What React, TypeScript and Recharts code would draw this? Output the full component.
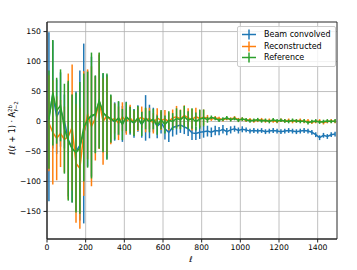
import React from 'react';
import { ComposedChart, Line, ErrorBar, XAxis, YAxis, CartesianGrid, Legend, ReferenceArea } from 'recharts';

// multipole bin centres
const ELL = [
  10, 30, 50, 70, 90, 110, 130, 150, 170, 190, 210, 230, 250, 270, 290, 310, 330, 350, 370, 390,
  410, 430, 450, 470, 490, 510, 530, 550, 570, 590, 610, 630, 650, 670, 690, 710, 730, 750, 770, 790,
  810, 830, 850, 870, 890, 910, 930, 950, 970, 990, 1010, 1030, 1050, 1070, 1090, 1110, 1130, 1150, 1170, 1190,
  1210, 1230, 1250, 1270, 1290, 1310, 1330, 1350, 1370, 1390, 1410, 1430, 1450, 1470, 1490,
];

const BEAM = [
  8, 45, 8, 20, 0, -30, -45, -50, -40, -20, 5, 8, 12, 33, 14, 8, 4,
  0, 5, -4, 7, 2, -3, 5, -5, 6, 0, 3, -8, -2, -12, -18, -10,
  -8, -6, -9, -12, -19, -20, -18, -17, -16, -18, -15, -16, -13, -17, -14, -12, -15, -13,
  -14, -16, -15, -16, -15, -17, -16, -15, -16, -17, -16, -15, -16, -17, -16, -15, -16, -18, -22, -27, -23, -25, -22, -21,
];
const BEAM_ERR = [
  141, 90, 62, 62, 45, 95, 90, 100, 125, 150, 80, 100, 64, 78, 66, 70, 40,
  32, 28, 30, 26, 24, 24, 22, 22, 38, 28, 20, 20, 18, 18, 16, 15,
  14, 13, 12, 12, 12, 11, 11, 10, 9, 8, 8, 7, 7, 6, 6, 5, 5, 5,
  4, 4, 4, 4, 4, 4, 4, 4, 4, 4, 4, 4, 4, 4, 4, 4, 4, 4, 4, 4, 4, 4, 4, 4,
];

const RECON = [
  -3, -18, -28, -20, -30, -25, -10, -70, -78, -20, 12, -8, 5, 34, 0, 10, 2,
  5, -3, 8, 0, 6, -2, 4, 7, 2, 5, -3, 6, 2, 4, 0, 6,
  8, 4, 10, 6, 3, 8, 5, 7, 6, 4, 6, 5, 3, 5, 4, 6, 3, 4,
  2, 3, 1, 2, 3, 1, 2, 1, 0, 2, 1, 2, 0, 1, 2, 0, 1, -1, 0, 1, -2, 0, 1, 0,
];
const RECON_ERR = [
  80, 87, 70, 56, 55, 105, 105, 99, 101, 104, 75, 100, 70, 80, 72, 65, 40,
  25, 28, 24, 22, 22, 20, 20, 18, 20, 18, 17, 16, 16, 15, 15, 14,
  18, 16, 17, 16, 18, 15, 14, 13, 5, 3, 3, 3, 3, 3, 3, 3, 3, 3,
  3, 3, 3, 3, 3, 3, 3, 3, 3, 3, 3, 3, 3, 3, 3, 3, 3, 3, 3, 3, 3, 3, 3, 3,
];

const REF = [
  3, 48, 18, 27, -12, -32, -45, -52, -44, -10, 3, 10, 12, 35, 15, 8, 5,
  0, 6, -5, 8, 2, -2, 6, -4, 5, 0, 4, -6, 3, -5, 2, 0,
  5, 3, 8, 2, 5, 0, 4, 6, 3, 7, 5, 2, 4, 6, 3, 5, 2, 4,
  3, 1, 2, 3, 1, 2, 0, 3, 1, 2, 1, 0, 2, 1, 0, 1, -2, 0, 1, -1, 0, 1, 0, 1,
];
const REF_ERR = [
  82, 88, 55, 60, 75, 100, 90, 100, 110, 90, 80, 105, 65, 80, 66, 72, 40,
  30, 28, 26, 24, 22, 22, 20, 20, 18, 18, 17, 16, 16, 15, 15, 14,
  17, 16, 18, 15, 17, 15, 16, 14, 5, 3, 3, 3, 3, 3, 3, 3, 3, 3,
  3, 3, 3, 3, 3, 3, 3, 3, 3, 3, 3, 3, 3, 3, 3, 3, 3, 3, 3, 3, 3, 3, 3, 3,
];

const X_TICKS = [0, 200, 400, 600, 800, 1000, 1200, 1400];
const Y_TICKS = [-150, -100, -50, 0, 50, 100, 150];

const SERIES = [
  { key: 'beam', name: 'Beam convolved', color: '#1f77b4' },
  { key: 'recon', name: 'Reconstructed', color: '#ff7f0e' },
  { key: 'ref', name: 'Reference', color: '#2ca02c' },
];

const data = ELL.map((ell, i) => ({
  ell,
  beam: BEAM[i],
  beamErr: BEAM_ERR[i],
  recon: RECON[i],
  reconErr: RECON_ERR[i],
  ref: REF[i],
  refErr: REF_ERR[i],
}));

const FONT = '"DejaVu Sans", sans-serif';
const fmt = (v: number) => String(v).replace('-', '\u2212');

function LegendBox() {
  return (
    <div
      style={{
        background: 'rgba(255,255,255,0.8)',
        border: '1px solid #cccccc',
        borderRadius: 2,
        padding: '2px 4px 2px 3px',
        fontFamily: FONT,
        fontSize: 8,
        color: '#000',
      }}
    >
      {SERIES.map((s) => (
        <div key={s.key} style={{ display: 'flex', alignItems: 'center', height: 11.5 }}>
          <svg width={16} height={11} style={{ marginRight: 7 }}>
            <line x1={1} y1={5.5} x2={15} y2={5.5} stroke={s.color} strokeWidth={1.5} />
            <line x1={8} y1={0.5} x2={8} y2={10.5} stroke={s.color} strokeWidth={1.5} />
          </svg>
          <span>{s.name}</span>
        </div>
      ))}
    </div>
  );
}

export default function App() {
  return (
    <div style={{ position: 'absolute', left: 0, top: 0, width: 357, height: 270, background: '#fff' }}>
      <ComposedChart width={357} height={270} data={data} margin={{ top: 22, right: 20, left: 0, bottom: 0 }}>
        <CartesianGrid stroke="#b0b0b0" strokeWidth={0.8} />
        <XAxis
          dataKey="ell"
          type="number"
          domain={[0, 1500]}
          ticks={X_TICKS}
          allowDataOverflow
          height={31}
          tickSize={3.5}
          tickMargin={2.5}
          stroke="#222"
          tick={{ fill: '#000', fontSize: 7.7, fontFamily: FONT }}
          label={() => (
            <text x={191} y={262} textAnchor="middle" fontSize={8} fontStyle="italic" fontFamily={FONT} fill="#000">
              ℓ
            </text>
          )}
        />
        <YAxis
          type="number"
          domain={[-196, 166]}
          ticks={Y_TICKS}
          allowDataOverflow
          width={47}
          tickSize={3.5}
          tickMargin={2.5}
          stroke="#222"
          tickFormatter={fmt}
          tick={{ fill: '#000', fontSize: 7.7, fontFamily: FONT }}
          label={() => (
            <text transform="rotate(-90)" x={-128} y={15} textAnchor="middle" fontSize={8} fontFamily={FONT} fill="#000">
              ℓ(ℓ + 1) · A
              <tspan dy={-3.5} fontSize={5.5}>2b</tspan>
              <tspan dx={-6.5} dy={6} fontSize={5.5}>ℓ−2</tspan>
            </text>
          )}
        />
        <ReferenceArea x1={0} x2={1500} y1={-196} y2={166} fill="none" stroke="#222" strokeWidth={0.8} ifOverflow="visible" />
        {SERIES.map((s) => (
          <Line
            key={s.key}
            dataKey={s.key}
            name={s.name}
            stroke={s.color}
            strokeWidth={1.5}
            dot={false}
            activeDot={false}
            isAnimationActive={false}
          >
            <ErrorBar dataKey={`${s.key}Err`} width={0} stroke={s.color} strokeWidth={1.5} direction="y" isAnimationActive={false} />
          </Line>
        ))}
        <Legend
          layout="vertical"
          align="center"
          verticalAlign="middle"
          wrapperStyle={{ left: 237, top: 26, width: 'auto' }}
          content={() => <LegendBox />}
        />
      </ComposedChart>
    </div>
  );
}
